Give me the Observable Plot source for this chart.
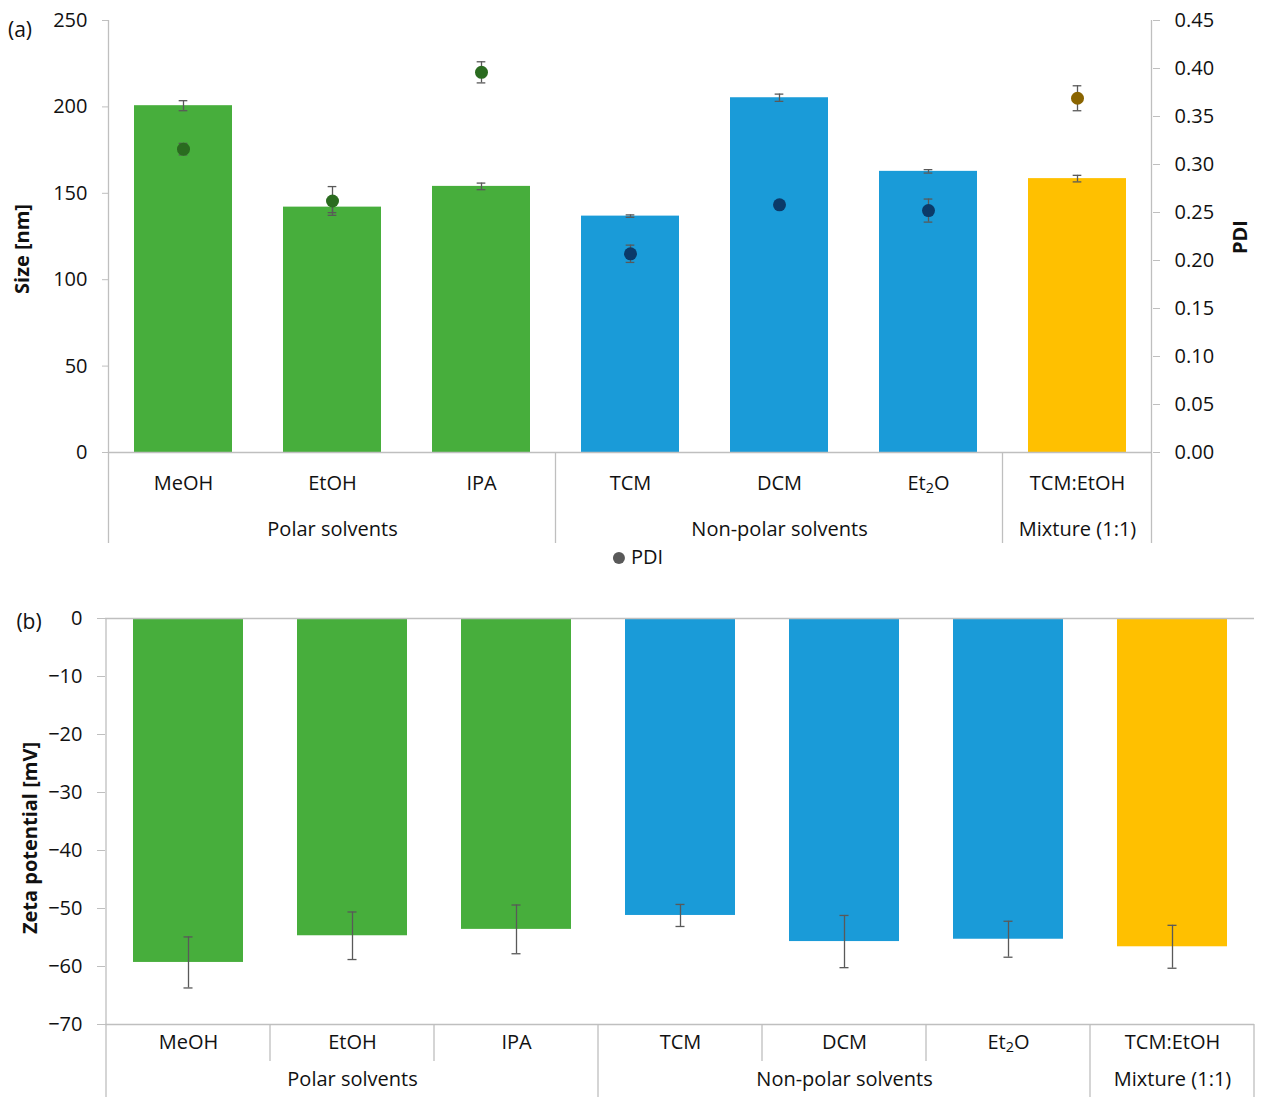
<!DOCTYPE html>
<html><head><meta charset="utf-8">
<script src="https://cdn.jsdelivr.net/npm/d3@7"></script>
<script src="https://cdn.jsdelivr.net/npm/@observablehq/plot@0.6"></script>
<style>
body{margin:0;background:#fff;font-family:"Open Sans",sans-serif;}
#wrap{position:relative;width:1264px;height:1101px;overflow:hidden;}
#wrap svg{position:absolute;left:0;}
.abs{position:absolute;white-space:nowrap;color:#111;font-size:20px;transform:translate(-50%,-50%);line-height:1;}
.panel{font-size:21px;}
.rot{transform:translate(-50%,-50%) rotate(-90deg);font-weight:bold;font-size:20px;}
</style></head><body><div id="wrap"></div>
<script>
// ---- data ----
const categories = ["MeOH", "EtOH", "IPA", "TCM", "DCM", "Et₂O", "TCM:EtOH"];
const groups = ["Polar solvents", "Non-polar solvents", "Mixture (1:1)"];
const groupOfCategory = [0, 0, 0, 1, 1, 1, 2];
const sizeNm = [200.7, 142.0, 154.0, 136.8, 205.3, 162.7, 158.5];
const sizeErr = [2.9, 3.2, 1.9, 0.7, 2.1, 1.0, 1.9];
const pdi = [0.316, 0.262, 0.396, 0.207, 0.258, 0.252, 0.369];
const pdiErr = [0.006, 0.015, 0.011, 0.009, 0.003, 0.012, 0.013];
const zeta = [-59.3, -54.7, -53.6, -51.2, -55.7, -55.3, -56.6];
const zetaErr = [4.4, 4.1, 4.2, 1.9, 4.5, 3.1, 3.7];
const sizeTicks = [0, 50, 100, 150, 200, 250];
const pdiTicks = [0, 0.05, 0.10, 0.15, 0.20, 0.25, 0.30, 0.35, 0.40, 0.45];
const zetaTicks = [0, -10, -20, -30, -40, -50, -60, -70];
const barColors = ["#47ae3c", "#1a9bd8", "#ffc000"];
const pdiColors = ["#2a6b1f", "#0b3a69", "#8a6400"];

const rows = categories.map((c, i) => ({
  cat: c, g: groupOfCategory[i], group: groups[groupOfCategory[i]],
  size: sizeNm[i], sizeErr: sizeErr[i], pdi: pdi[i], pdiErr: pdiErr[i],
  zeta: zeta[i], zetaErr: zetaErr[i]
}));
const groupMid = groups.map((name, gi) => {
  const m = rows.filter(r => r.g === gi);
  return {name, cat: m[Math.floor(m.length / 2)].cat};
});

const W = 1264;
const FONT = '"Open Sans", sans-serif';
const AX = "#bfbfbf", ERR = "#595959", TXT = "#111";
const wrap = document.getElementById("wrap");

function errMarks(data, lo, hi, capInset) {
  return [
    Plot.ruleX(data, {x: "cat", y1: lo, y2: hi, stroke: ERR, strokeWidth: 1.3}),
    Plot.tickY(data, {x: "cat", y: lo, stroke: ERR, strokeWidth: 1.3, insetLeft: capInset, insetRight: capInset}),
    Plot.tickY(data, {x: "cat", y: hi, stroke: ERR, strokeWidth: 1.3, insetLeft: capInset, insetRight: capInset})
  ];
}
function subscripts(svg) {
  d3.select(svg).selectAll("text").filter(function () { return this.textContent === "Et₂O"; })
    .each(function () {
      const t = d3.select(this);
      t.text("Et");
      t.append("tspan").attr("baseline-shift", "-22%").attr("font-size", "72%").text("2");
      this.appendChild(document.createTextNode("O"));
    });
}
function boundaries(plot) {
  const sx = plot.scale("x");
  const gap = (sx.step - sx.bandwidth) / 2;
  const xs = categories.map(c => sx.apply(c) - gap);
  xs.push(xs[xs.length - 1] + sx.step);
  return xs;
}

// ---- (a) size + PDI ----
const A = {width: W, height: 580, marginLeft: 109, marginRight: 112, marginTop: 20, marginBottom: 128};
const padA = 0.34;
const stepA = (W - A.marginLeft - A.marginRight) / categories.length;
const capA = (stepA * (1 - padA) - 9) / 2;
const k = 250 / 0.45;

const plotA = Plot.plot({
  ...A,
  style: {fontFamily: FONT, fontSize: "20px", color: TXT, background: "transparent", overflow: "visible"},
  x: {type: "band", domain: categories, paddingInner: padA, paddingOuter: padA / 2, axis: null},
  y: {domain: [0, 250], axis: null},
  marks: [
    ...groups.map((g, gi) => Plot.barY(rows.filter(r => r.g === gi), {x: "cat", y: "size", fill: barColors[gi]})),
    Plot.ruleY([0], {stroke: AX, strokeWidth: 1.3}),
    Plot.axisY({anchor: "left", ticks: sizeTicks, tickSize: 7, tickPadding: 15, stroke: AX, fill: TXT, fontSize: 20, label: null}),
    Plot.axisY({anchor: "right", ticks: pdiTicks.map(t => t * k), tickFormat: d => (d / k).toFixed(2),
      tickSize: 7, tickPadding: 15, stroke: AX, fill: TXT, fontSize: 20, label: null}),
    ...errMarks(rows, d => d.size - d.sizeErr, d => d.size + d.sizeErr, capA),
    ...errMarks(rows, d => (d.pdi - d.pdiErr) * k, d => (d.pdi + d.pdiErr) * k, capA),
    ...groups.map((g, gi) => Plot.dot(rows.filter(r => r.g === gi), {x: "cat", y: d => d.pdi * k, r: 6.5, fill: pdiColors[gi], stroke: "none"})),
    Plot.text(rows, {x: "cat", y: () => 0, text: "cat", dy: 31, fontSize: 20, fill: TXT}),
    Plot.text(groupMid, {x: "cat", y: () => 0, text: "name", dy: 77, fontSize: 20, fill: TXT})
  ]
});
plotA.style.top = "0px";
wrap.appendChild(plotA);
subscripts(plotA);
{
  const sy = plotA.scale("y");
  const xs = boundaries(plotA);
  const y0 = sy.apply(0), yTop = sy.apply(250), yEnd = y0 + 91;
  const gA = d3.select(plotA).append("g").attr("stroke", AX).attr("stroke-width", 1.3);
  xs.forEach((x, i) => {
    const isEdge = i === 0 || i === categories.length;
    const isGroup = isEdge || groupOfCategory[i] !== groupOfCategory[i - 1];
    if (!isGroup) return;
    gA.append("line").attr("x1", x).attr("x2", x).attr("y1", isEdge ? yTop : y0).attr("y2", yEnd);
  });
}

// ---- (b) zeta potential ----
const B = {width: W, height: 511, marginLeft: 105, marginRight: 10, marginTop: 28, marginBottom: 77};
const padB = 0.33;
const stepB = (W - B.marginLeft - B.marginRight) / categories.length;
const capB = (stepB * (1 - padB) - 9) / 2;

const plotB = Plot.plot({
  ...B,
  style: {fontFamily: FONT, fontSize: "20px", color: TXT, background: "transparent", overflow: "visible"},
  x: {type: "band", domain: categories, paddingInner: padB, paddingOuter: padB / 2, axis: null},
  y: {domain: [-70, 0], axis: null},
  marks: [
    ...groups.map((g, gi) => Plot.barY(rows.filter(r => r.g === gi), {x: "cat", y: "zeta", fill: barColors[gi]})),
    Plot.ruleY([0, -70], {stroke: AX, strokeWidth: 1.3}),
    Plot.axisY({anchor: "left", ticks: zetaTicks, tickSize: 8, tickPadding: 15, stroke: AX, fill: TXT, fontSize: 20, label: null}),
    ...errMarks(rows, d => d.zeta - d.zetaErr, d => d.zeta + d.zetaErr, capB),
    Plot.text(rows, {x: "cat", y: () => -70, text: "cat", dy: 18, fontSize: 20, fill: TXT}),
    Plot.text(groupMid, {x: "cat", y: () => -70, text: "name", dy: 55, fontSize: 20, fill: TXT})
  ]
});
plotB.style.top = "590px";
wrap.appendChild(plotB);
subscripts(plotB);
{
  const sy = plotB.scale("y");
  const xs = boundaries(plotB);
  const y0 = sy.apply(0), yB = sy.apply(-70);
  const gB = d3.select(plotB).append("g").attr("stroke", AX).attr("stroke-width", 1.3);
  xs.forEach((x, i) => {
    const isEdge = i === 0 || i === categories.length;
    const isGroup = isEdge || groupOfCategory[i] !== groupOfCategory[i - 1];
    gB.append("line").attr("x1", x).attr("x2", x)
      .attr("y1", i === 0 ? y0 : yB)
      .attr("y2", isGroup ? yB + 73 : yB + 37);
  });
}

// ---- HTML labels ----
function label(text, x, y, cls) {
  const d = document.createElement("div");
  d.className = "abs" + (cls ? " " + cls : "");
  d.textContent = text;
  d.style.left = x + "px"; d.style.top = y + "px";
  wrap.appendChild(d);
  return d;
}
label("(a)", 20, 29, "panel");
label("(b)", 29, 621, "panel");
label("Size [nm]", 22, 249, "rot");
label("PDI", 1240, 237, "rot");
label("Zeta potential [mV]", 30, 838, "rot");
// legend
const lg = document.createElement("div");
lg.className = "abs";
lg.style.left = "638px"; lg.style.top = "557px";
lg.innerHTML = '<span style="display:inline-block;width:12px;height:12px;border-radius:50%;background:#595959;margin-right:6px;vertical-align:middle;position:relative;top:-1px"></span>PDI';
wrap.appendChild(lg);
</script></body></html>
